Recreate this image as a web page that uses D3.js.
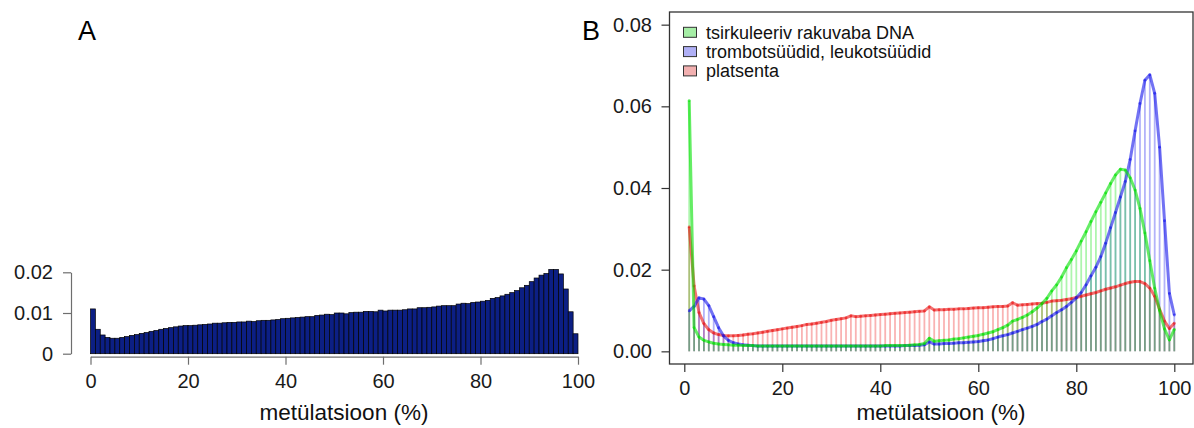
<!DOCTYPE html>
<html>
<head>
<meta charset="utf-8">
<script src="https://cdn.jsdelivr.net/npm/d3@7/dist/d3.min.js"></script>
<style>
	body{margin:0;background:#fff;}
	svg{display:block;font-family:"Liberation Sans",Arial,Helvetica,sans-serif;}
	.axisA path,.axisA line{stroke:#6e6e6e;stroke-width:1.2;}
	.axisB path{display:none;}
	.axisB line{stroke:#333;stroke-width:1.2;}
	.tickText{font-size:20px;fill:#1a1a1a;}
	.axisTitle{font-size:22.5px;fill:#111;}
	.panelLabel{font-size:27px;fill:#000;}
	.legendText{font-size:18px;fill:#111;}
	.bar{fill:#0c1f84;stroke:#000;stroke-width:0.7;}
	.frame{fill:none;stroke:#333;stroke-width:1.3;}
</style>
</head>
<body>
<script>
//wrap everything in a self-executing anonymous function to move to local scope
(function(){

//panel A: one bar per 1% methylation bin (bin start values)
var binsA=d3.range(0,100);
var densityA=[
	0.0110,0.0060,0.0046,0.0040,0.0038,0.0038,0.0040,0.0042,0.0045,0.0047,
	0.0050,0.0052,0.0055,0.0057,0.0060,0.0062,0.0064,0.0066,0.0068,0.0069,
	0.0069,0.0070,0.0071,0.0072,0.0073,0.0075,0.0075,0.0076,0.0077,0.0077,
	0.0078,0.0078,0.0080,0.0079,0.0081,0.0082,0.0082,0.0083,0.0084,0.0086,
	0.0087,0.0088,0.0089,0.0090,0.0091,0.0091,0.0094,0.0095,0.0097,0.0096,
	0.0100,0.0100,0.0098,0.0101,0.0102,0.0102,0.0104,0.0104,0.0103,0.0107,
	0.0105,0.0107,0.0107,0.0107,0.0108,0.0110,0.0110,0.0113,0.0113,0.0114,
	0.0115,0.0117,0.0118,0.0118,0.0118,0.0122,0.0124,0.0123,0.0126,0.0127,
	0.0129,0.0131,0.0136,0.0138,0.0142,0.0146,0.0150,0.0155,0.0162,0.0168,
	0.0177,0.0186,0.0193,0.0197,0.0207,0.0207,0.0196,0.0159,0.0103,0.0049
];

//panel B: methylation level 1..100 %
var methB=d3.range(1,101);
var cfDNA=[
	0.0614,0.0058,0.0035,0.0027,0.0023,0.0020,0.0018,0.0017,0.0016,0.0015,
	0.0015,0.0014,0.0014,0.0014,0.0013,0.0013,0.0013,0.0013,0.0013,0.0013,
	0.0013,0.0013,0.0013,0.0013,0.0013,0.0013,0.0013,0.0013,0.0013,0.0013,
	0.0013,0.0013,0.0013,0.0013,0.0013,0.0013,0.0013,0.0013,0.0013,0.0013,
	0.0014,0.0014,0.0014,0.0014,0.0014,0.0015,0.0016,0.0017,0.0019,0.0032,
	0.0025,0.0026,0.0027,0.0028,0.0030,0.0031,0.0033,0.0035,0.0037,0.0039,
	0.0042,0.0045,0.0048,0.0053,0.0058,0.0064,0.0074,0.0078,0.0083,0.0089,
	0.0097,0.0106,0.0117,0.0130,0.0148,0.0163,0.0182,0.0205,0.0225,0.0246,
	0.0270,0.0293,0.0318,0.0342,0.0365,0.0388,0.0411,0.0432,0.0446,0.0444,
	0.0425,0.0395,0.0350,0.0290,0.0222,0.0155,0.0100,0.0055,0.0028,0.0054
];
var bloodCells=[
	0.0099,0.0110,0.0131,0.0128,0.0112,0.0085,0.0058,0.0038,0.0027,0.0021,
	0.0018,0.0016,0.0015,0.0014,0.0013,0.0013,0.0013,0.0013,0.0013,0.0013,
	0.0013,0.0013,0.0013,0.0013,0.0013,0.0013,0.0013,0.0013,0.0013,0.0013,
	0.0013,0.0013,0.0013,0.0013,0.0013,0.0013,0.0013,0.0013,0.0013,0.0013,
	0.0013,0.0013,0.0013,0.0013,0.0014,0.0014,0.0014,0.0015,0.0016,0.0023,
	0.0018,0.0018,0.0019,0.0019,0.0020,0.0021,0.0021,0.0022,0.0023,0.0024,
	0.0026,0.0028,0.0031,0.0035,0.0038,0.0041,0.0045,0.0049,0.0053,0.0057,
	0.0061,0.0066,0.0073,0.0079,0.0087,0.0095,0.0102,0.0110,0.0120,0.0131,
	0.0144,0.0163,0.0185,0.0206,0.0232,0.0265,0.0303,0.0340,0.0378,0.0416,
	0.0470,0.0540,0.0607,0.0664,0.0677,0.0632,0.0500,0.0320,0.0142,0.0089
];
var placenta=[
	0.0305,0.0160,0.0095,0.0068,0.0053,0.0045,0.0041,0.0039,0.0038,0.0038,
	0.0039,0.0040,0.0042,0.0043,0.0045,0.0047,0.0049,0.0051,0.0053,0.0055,
	0.0057,0.0059,0.0061,0.0063,0.0066,0.0067,0.0069,0.0071,0.0073,0.0076,
	0.0078,0.0080,0.0082,0.0087,0.0085,0.0086,0.0087,0.0088,0.0089,0.0090,
	0.0091,0.0092,0.0093,0.0094,0.0095,0.0096,0.0097,0.0098,0.0099,0.0109,
	0.0101,0.0102,0.0102,0.0103,0.0103,0.0104,0.0104,0.0105,0.0106,0.0107,
	0.0107,0.0108,0.0109,0.0110,0.0110,0.0111,0.0119,0.0113,0.0114,0.0115,
	0.0116,0.0117,0.0118,0.0120,0.0123,0.0124,0.0125,0.0127,0.0129,0.0132,
	0.0135,0.0138,0.0141,0.0144,0.0148,0.0152,0.0155,0.0158,0.0162,0.0166,
	0.0169,0.0171,0.0171,0.0166,0.0155,0.0135,0.0103,0.0074,0.0056,0.0069
];
var seriesNames=["tsirkuleeriv rakuvaba DNA","trombotsüüdid, leukotsüüdid","platsenta"];

//tick values and labels
var xTicks=[0,20,40,60,80,100];
var yTicksA=[0,0.01,0.02];
var yLabelsA=["0","0.01","0.02"];
var yTicksB=[0,0.02,0.04,0.06,0.08];
var yLabelsB=["0.00","0.02","0.04","0.06","0.08"];
var xTitle="metülatsioon (%)";

//series styling (order = legend order)
var seriesColors=[[0,225,0],[20,20,235],[235,20,20]];
var legendFill=["#a6eea6","#b0b0f6","#f2b0b0"];

var width=1194,
	height=428;

var svg=d3.select("body")
	.append("svg")
	.attr("width",width)
	.attr("height",height);

setPanelA();
setPanelB();

//histogram panel
function setPanelA(){
	var xA=d3.scaleLinear()
		.domain([0,100])
		.range([90.5,578]);
	var yA=d3.scaleLinear()
		.domain([0,0.02])
		.range([353.7,272.3]);

	svg.selectAll(".bar")
		.data(densityA)
		.enter()
		.append("rect")
		.attr("class","bar")
		.attr("x",function(d,i){ return xA(binsA[i]); })
		.attr("width",function(d,i){ return xA(binsA[i]+1)-xA(binsA[i]); })
		.attr("y",function(d){ return yA(d); })
		.attr("height",function(d){ return yA(0)-yA(d); });

	//y axis
	var yAxis=svg.append("g")
		.attr("class","axisA")
		.attr("transform","translate(71,0)")
		.call(d3.axisLeft(yA)
			.tickValues(yTicksA)
			.tickFormat(function(d,i){ return yLabelsA[i]; })
			.tickSize(8)
			.tickSizeOuter(0)
			.tickPadding(10));
	yAxis.selectAll("text").attr("class","tickText").attr("font-size",null).attr("font-family",null);

	//x axis
	var xAxis=svg.append("g")
		.attr("class","axisA")
		.attr("transform","translate(0,356.7)")
		.call(d3.axisBottom(xA)
			.tickValues(xTicks)
			.tickSize(8)
			.tickSizeOuter(0)
			.tickPadding(9.4));
	xAxis.selectAll("text").attr("class","tickText").attr("font-size",null).attr("font-family",null);

	svg.append("text")
		.attr("class","axisTitle")
		.attr("x",344)
		.attr("y",420)
		.attr("text-anchor","middle")
		.text(xTitle);

	svg.append("text")
		.attr("class","panelLabel")
		.attr("x",78)
		.attr("y",40)
		.text("A");
}

//density panel with three tissues
function setPanelB(){
	var xB=d3.scaleLinear()
		.domain([0,100])
		.range([684.3,1174.3]);
	var yB=d3.scaleLinear()
		.domain([-0.0031,0.0831])
		.range([364,12]);

	var allSeries=[cfDNA,bloodCells,placenta];
	//draw order: placenta, blood cells, cfDNA
	var drawOrder=[2,1,0];

	//vertical "h" lines
	drawOrder.forEach(function(k){
		var c=seriesColors[k];
		svg.append("g")
			.selectAll("line")
			.data(allSeries[k])
			.enter()
			.append("line")
			.attr("x1",function(d,i){ return xB(methB[i]); })
			.attr("x2",function(d,i){ return xB(methB[i]); })
			.attr("y1",yB(0))
			.attr("y2",function(d){ return yB(d); })
			.attr("stroke","rgba("+c.join(",")+",0.32)")
			.attr("stroke-width",1.8);
	});

	//curves with small points
	var line=d3.line()
		.x(function(d,i){ return xB(methB[i]); })
		.y(function(d){ return yB(d); });
	drawOrder.forEach(function(k){
		var c=seriesColors[k];
		var col="rgba("+c.join(",")+",0.6)";
		svg.append("path")
			.datum(allSeries[k])
			.attr("d",line)
			.attr("fill","none")
			.attr("stroke",col)
			.attr("stroke-width",3)
			.attr("stroke-linejoin","round");
		svg.append("g")
			.selectAll("circle")
			.data(allSeries[k])
			.enter()
			.append("circle")
			.attr("cx",function(d,i){ return xB(methB[i]); })
			.attr("cy",function(d){ return yB(d); })
			.attr("r",1.4)
			.attr("fill",col);
	});

	//frame
	svg.append("rect")
		.attr("class","frame")
		.attr("x",669.5)
		.attr("y",12)
		.attr("width",523.5)
		.attr("height",352);

	var yAxis=svg.append("g")
		.attr("class","axisB")
		.attr("transform","translate(669.5,0)")
		.call(d3.axisLeft(yB)
			.tickValues(yTicksB)
			.tickFormat(function(d,i){ return yLabelsB[i]; })
			.tickSize(8)
			.tickPadding(9.5));
	yAxis.selectAll("text").attr("class","tickText").attr("font-size",null).attr("font-family",null);

	var xAxis=svg.append("g")
		.attr("class","axisB")
		.attr("transform","translate(0,364)")
		.call(d3.axisBottom(xB)
			.tickValues(xTicks)
			.tickSize(8)
			.tickPadding(8.8));
	xAxis.selectAll("text").attr("class","tickText").attr("font-size",null).attr("font-family",null);

	svg.append("text")
		.attr("class","axisTitle")
		.attr("x",941)
		.attr("y",420)
		.attr("text-anchor","middle")
		.text(xTitle);

	svg.append("text")
		.attr("class","panelLabel")
		.attr("x",582)
		.attr("y",40)
		.text("B");

	//legend
	var legend=svg.append("g")
		.attr("class","legend");
	var rowY=[32.3,51.6,70.9];
	seriesNames.forEach(function(name,i){
		legend.append("rect")
			.attr("x",683.5)
			.attr("y",rowY[i]-5)
			.attr("width",13)
			.attr("height",10)
			.attr("fill",legendFill[i])
			.attr("stroke","#333")
			.attr("stroke-width",1);
		legend.append("text")
			.attr("class","legendText")
			.attr("x",706)
			.attr("y",rowY[i])
			.attr("dy","0.35em")
			.text(name);
	});
}

})();
</script>
</body>
</html>
